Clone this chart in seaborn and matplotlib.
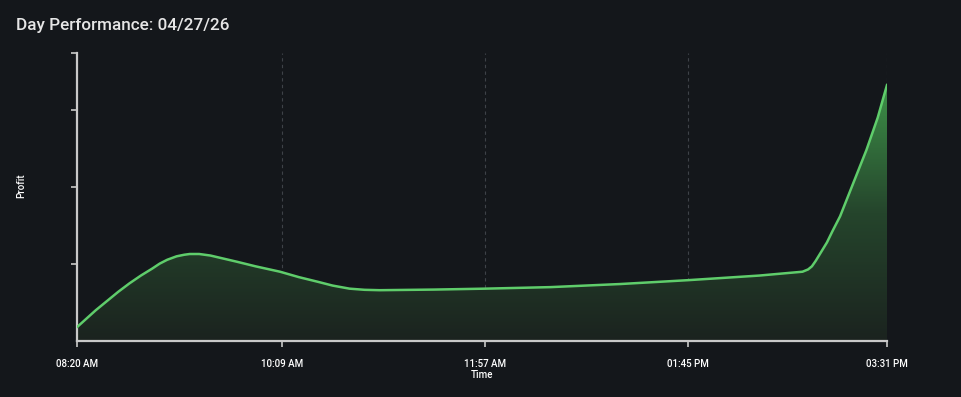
import pandas as pd
import numpy as np
import matplotlib
matplotlib.use("Agg")
import matplotlib.pyplot as plt
import matplotlib.dates as mdates
from matplotlib.colors import LinearSegmentedColormap
import seaborn as sns

# values (profit in arbitrary units, unlabeled y axis)
times = ["08:20", "08:25", "08:30", "08:36", "08:42", "08:48", "08:54", "09:00",
         "09:04", "09:08", "09:13", "09:17", "09:20", "09:25", "09:31", "09:38",
         "09:45", "09:55", "10:08", "10:18", "10:28", "10:36", "10:45", "10:53",
         "11:01", "11:30", "11:57", "12:32", "13:09", "13:45", "14:23", "14:46",
         "14:49", "14:51", "14:53", "14:55", "14:57", "14:59", "15:02", "15:06",
         "15:13", "15:20", "15:26", "15:31"]
profit = [18, 29, 40, 52, 64, 75, 85, 94, 100.5, 105.5, 110, 112, 113, 113, 111, 107,
          103, 97, 90, 83, 77, 72, 68, 66.5, 66, 66.8, 68, 70, 74, 79, 85, 90,
          93, 97, 104, 112, 120, 128, 143, 162, 205, 248, 290, 333]
tick_times = ["08:20", "10:09", "11:57", "13:45", "15:31"]
date = "2026-04-27"

df = pd.DataFrame({"Time": pd.to_datetime([f"{date} {t}" for t in times]),
                   "Profit": profit})
ticks = pd.to_datetime([f"{date} {t}" for t in tick_times])

bg = "#14171b"
sns.set_style("dark", rc={"axes.facecolor": bg, "figure.facecolor": bg})
plt.rcParams["font.family"] = ["Roboto", "DejaVu Sans"]

fig = plt.figure(figsize=(9.61, 3.97), dpi=100)
ax = fig.add_axes([0.0801, 0.141, 0.843, 0.7255])

sns.lineplot(data=df, x="Time", y="Profit", ax=ax, color="#5fcd6b", linewidth=1.8,
             zorder=3)

# gradient fill under the curve
xnum = mdates.date2num(df["Time"])
ymax = 374
cmap = LinearSegmentedColormap.from_list("g", ["#1b231f", "#25452c", "#3d9148"])
grad = np.linspace(0, 1, 256).reshape(-1, 1)
im = ax.imshow(grad, cmap=cmap, aspect="auto", origin="lower",
               extent=[xnum[0], xnum[-1], 0, max(profit)], zorder=1)
poly = ax.fill_between(xnum, profit, 0, color="none")
clip = poly.get_paths()[0]
im.set_clip_path(clip, transform=ax.transData)

ax.set_xlim(xnum[0], xnum[-1])
ax.set_ylim(0, ymax)
ax.set_xticks(mdates.date2num(ticks))
ax.xaxis.set_major_formatter(mdates.DateFormatter("%I:%M %p"))
ax.set_yticks([100, 200, 300, ymax])
ax.set_yticklabels([])

for t in mdates.date2num(ticks)[1:]:
    ax.axvline(t, color="#3e4248", linestyle=(0, (3, 3)), linewidth=0.8, zorder=0)

for s in ["top", "right"]:
    ax.spines[s].set_visible(False)
for s in ["left", "bottom"]:
    ax.spines[s].set_color("#c9c9c9")
    ax.spines[s].set_linewidth(1.6)
ax.tick_params(axis="both", colors="#c9c9c9", length=4, width=1.2,
               labelcolor="white", labelsize=7, bottom=True, left=True)
ax.tick_params(axis="x", pad=9)
for lab in ax.get_xticklabels():
    lab.set_fontweight("medium")
ax.grid(False)

ax.set_xlabel("Time", color="white", fontsize=7, labelpad=1, fontweight="medium")
ax.set_ylabel("Profit", color="white", fontsize=7, fontweight="medium")
ax.yaxis.set_label_coords(-0.063, 0.54)
fig.text(0.017, 0.937, "Day Performance: 04/27/26", color="#e6e6e6", fontsize=12.3,
         ha="left", va="center", fontweight="medium")

fig.savefig("out.png", dpi=100, facecolor=bg)
